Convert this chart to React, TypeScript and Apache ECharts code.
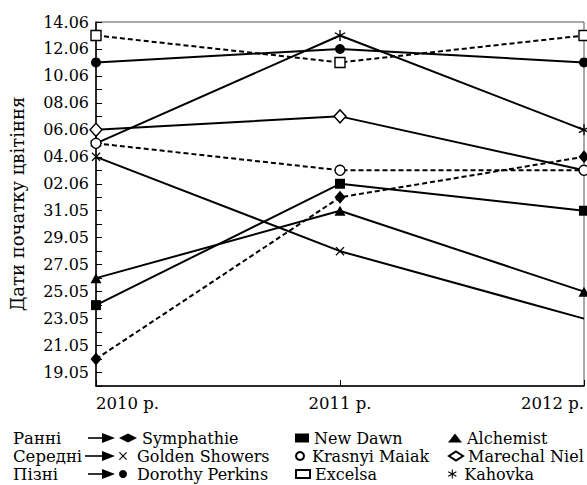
import { useEffect, useRef } from 'react';
import * as echarts from 'echarts';

const years = ['2010 р.', '2011 р.', '2012 р.'];
const groupLabels = ['Ранні', 'Середні', 'Пізні'];

// flowering start dates (dd.mm) for 2010, 2011, 2012
const symphathie = ['20.05', '01.06', '04.06'];
const newDawn = ['24.05', '02.06', '31.05'];
const alchemist = ['26.05', '31.05', '25.05'];
const goldenShowers = ['04.06', '28.05', '23.05'];
const krasnyiMaiak = ['05.06', '03.06', '03.06'];
const marechalNiel = ['06.06', '07.06', '03.06'];
const dorothyPerkins = ['11.06', '12.06', '11.06'];
const excelsa = ['13.06', '11.06', '13.06'];
const kahovka = ['05.06', '13.06', '06.06'];

const axisMinDate = '18.05';
const axisMaxDate = '14.06';
const firstLabelDate = '19.05';

const FONT = 'DejaVu Serif';

const toDay = (s: string) => {
  const [d, m] = s.split('.').map(Number);
  return d + (m === 6 ? 31 : 0);
};
const pad = (n: number) => (n < 10 ? '0' + n : '' + n);
const fromDay = (v: number) => (v <= 31 ? pad(v) + '.05' : pad(v - 31) + '.06');

const CROSS = 'path://M0,1L1,0L5,4L9,0L10,1L6,5L10,9L9,10L5,6L1,10L0,9L4,5Z';
const STAR =
  'path://M4.4,0L5.6,0L5.6,10L4.4,10Z M0.79,1.98L9.79,6.98L9.21,8.02L0.21,3.02Z M9.79,3.02L0.79,8.02L0.21,6.98L9.21,1.98Z';

type Def = {
  name: string;
  data: string[];
  symbol: string;
  size: number | number[];
  legendSize: number;
  open: boolean;
  dashed: boolean;
  hide?: number[];
  col: number;
  row: number;
};

const defs: Def[] = [
  { name: 'Symphathie', data: symphathie, symbol: 'diamond', size: [11, 13], legendSize: 9, open: false, dashed: true, col: 0, row: 0 },
  { name: 'New Dawn', data: newDawn, symbol: 'rect', size: 10, legendSize: 9, open: false, dashed: false, col: 1, row: 0 },
  { name: 'Alchemist', data: alchemist, symbol: 'triangle', size: [11, 10], legendSize: 9, open: false, dashed: false, col: 2, row: 0 },
  { name: 'Golden Showers', data: goldenShowers, symbol: CROSS, size: 9, legendSize: 8, open: false, dashed: false, hide: [2], col: 0, row: 1 },
  { name: 'Marechal Niel', data: marechalNiel, symbol: 'diamond', size: [12, 13], legendSize: 9, open: true, dashed: false, hide: [2], col: 2, row: 1 },
  { name: 'Krasnyi Maiak', data: krasnyiMaiak, symbol: 'circle', size: 10, legendSize: 8, open: true, dashed: true, col: 1, row: 1 },
  { name: 'Dorothy Perkins', data: dorothyPerkins, symbol: 'circle', size: 10, legendSize: 8, open: false, dashed: false, col: 0, row: 2 },
  { name: 'Excelsa', data: excelsa, symbol: 'rect', size: 10, legendSize: 8, open: true, dashed: true, col: 1, row: 2 },
  { name: 'Kahovka', data: kahovka, symbol: STAR, size: 11, legendSize: 9, open: false, dashed: false, col: 2, row: 2 },
];

const legendCols = [
  { left: 119, w: 18 },
  { left: 295, w: 14 },
  { left: 448, w: 14 },
];
const rowCenters = [438, 456, 474];

export default function App() {
  const ref = useRef<HTMLDivElement>(null);
  useEffect(() => {
    if (!ref.current) return;
    const chart = echarts.init(ref.current, undefined, { renderer: 'svg' });

    const series = defs.map((d) => ({
      name: d.name,
      type: 'line',
      symbol: d.symbol,
      symbolSize: d.size,
      symbolKeepAspect: false,
      data: d.data.map((s, i) =>
        d.hide && d.hide.includes(i) ? { value: toDay(s), symbol: 'none' } : toDay(s)
      ),
      lineStyle: { color: '#000', width: 2, type: d.dashed ? [5, 3] : 'solid' },
      itemStyle: d.open
        ? { color: '#fff', borderColor: '#000', borderWidth: 1.4, opacity: 1 }
        : { color: '#000', borderColor: '#000', borderWidth: 0 },
      emphasis: { disabled: true },
      z: d.open ? 3 : 2,
    }));

    const legends = defs.map((d) => ({
      data: [{ name: d.name, icon: d.symbol }],
      left: legendCols[d.col].left,
      top: rowCenters[d.row] - 8,
      padding: 0,
      itemWidth: legendCols[d.col].w,
      itemHeight: d.legendSize,
      selectedMode: false,
      textStyle: { fontFamily: FONT, fontSize: 16, color: '#000', lineHeight: 16 },
    }));

    const graphics: any[] = [];
    groupLabels.forEach((g, i) => {
      const y = rowCenters[i];
      graphics.push({
        type: 'text',
        x: 13,
        y,
        style: {
          text: g,
          fontFamily: FONT,
          fontSize: 16.5,
          lineHeight: 16,
          fill: '#000',
          verticalAlign: 'middle',
        },
      });
      graphics.push({
        type: 'line',
        shape: { x1: i === 1 ? 85 : 88, y1: y, x2: 104, y2: y },
        style: { stroke: '#000', lineWidth: 1.6 },
      });
      graphics.push({
        type: 'polygon',
        shape: { points: [[102, y - 5], [115, y], [102, y + 5]] },
        style: { fill: '#000' },
      });
    });

    chart.setOption({
      animation: false,
      textStyle: { fontFamily: FONT },
      grid: {
        left: 96,
        right: 2,
        top: 22,
        bottom: 99,
        show: true,
        borderColor: '#555',
        borderWidth: 1,
      },
      xAxis: {
        type: 'category',
        data: years,
        boundaryGap: false,
        axisLine: { lineStyle: { color: '#000', width: 1.5 } },
        axisTick: { inside: true, length: 6, alignWithLabel: true, lineStyle: { color: '#000', width: 1 } },
        axisLabel: {
          fontFamily: FONT,
          fontSize: 16.5,
          color: '#000',
          margin: 9,
          alignMinLabel: 'left',
          alignMaxLabel: 'right',
        },
        splitLine: { show: false },
      },
      yAxis: {
        type: 'value',
        min: toDay(axisMinDate),
        max: toDay(axisMaxDate),
        interval: 1,
        name: 'Дати початку цвітіння',
        nameLocation: 'middle',
        nameGap: 70,
        nameRotate: 90,
        nameTextStyle: { fontFamily: FONT, fontSize: 18, color: '#000' },
        axisLine: { show: true, lineStyle: { color: '#000', width: 1.5 } },
        axisTick: { show: true, inside: true, length: 6, lineStyle: { color: '#000', width: 1 } },
        axisLabel: {
          fontFamily: FONT,
          fontSize: 16,
          color: '#000',
          margin: 7,
          formatter: (v: number) => ((v - toDay(firstLabelDate)) % 2 === 0 ? fromDay(v) : ''),
        },
        splitLine: { show: false },
      },
      legend: legends,
      graphic: graphics,
      series,
    });
    return () => chart.dispose();
  }, []);
  return (
    <div
      ref={ref}
      style={{ position: 'absolute', left: 0, top: 0, width: 587, height: 485, background: '#fff' }}
    />
  );
}
